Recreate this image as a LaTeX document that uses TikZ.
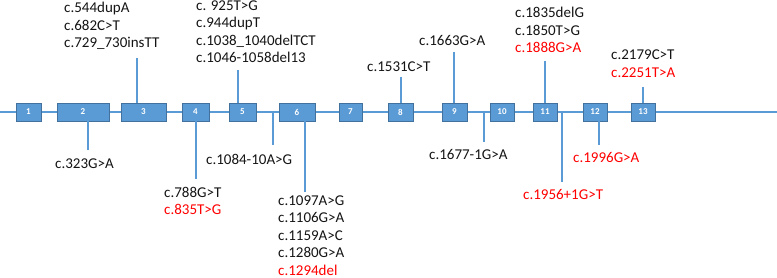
\documentclass[tikz,border=0pt]{standalone}
\usepackage{fontspec}
\setmainfont{Carlito}
\usetikzlibrary{positioning}
\definecolor{LineBlue}{RGB}{91,155,213}
\definecolor{EdgeBlue}{RGB}{65,113,156}
\definecolor{MutRed}{RGB}{255,0,0}
\definecolor{Ink}{RGB}{20,20,20}
\tikzset{
  exon/.style={draw=EdgeBlue,line width=.8pt,fill=LineBlue,text=white,font=\bfseries\fontsize{9}{10}\selectfont,minimum height=18pt,inner sep=0pt},
  gene/.style={draw=LineBlue,line width=2pt},
  stem/.style={draw=LineBlue,line width=1.2pt},
  mut/.style={anchor=north west,inner sep=0pt,align=left,text=Ink,font=\fontsize{15}{17.4}\selectfont,execute at begin node=\strut}
}
\newcommand{\hot}[1]{\textcolor{MutRed}{#1}}
\begin{document}
\begin{tikzpicture}[x=1pt,y=-1pt]
  \useasboundingbox (0,0) rectangle (777,278);
  \coordinate (lineL) at (0,112);
  \coordinate (lineR) at (777,112);
  \draw[gene] (lineL) -- (lineR);
  % exons
  \node[exon,minimum width=25pt] (e1) at (28.5,112) {1};
  \node[exon,minimum width=52pt] (e2) at (83,112) {2};
  \node[exon,minimum width=45pt] (e3) at (143.5,112) {3};
  \node[exon,minimum width=27pt] (e4) at (195.5,112) {4};
  \node[exon,minimum width=27pt] (e5) at (242.5,112) {5};
  \node[exon,minimum width=36pt] (e6) at (297,112) {6};
  \node[exon,minimum width=23pt] (e7) at (350.5,112) {7};
  \node[exon,minimum width=25pt] (e8) at (400.5,112) {8};
  \node[exon,minimum width=25pt] (e9) at (454.5,112) {9};
  \node[exon,minimum width=24pt] (e10) at (502,112) {10};
  \node[exon,minimum width=24pt] (e11) at (545,112) {11};
  \node[exon,minimum width=24pt] (e12) at (595,112) {12};
  \node[exon,minimum width=24pt] (e13) at (643,112) {13};
  % stems above
  \coordinate (t3) at (137,58);
  \coordinate (t5) at (238,70);
  \coordinate (t8) at (401,77);
  \coordinate (t9) at (454,52);
  \coordinate (t11) at (545,61);
  \coordinate (t13) at (643,87);
  \draw[stem] (t3) -- (t3 |- e3.north);
  \draw[stem] (t5) -- (t5 |- e5.north);
  \draw[stem] (t8) -- (t8 |- e8.north);
  \draw[stem] (t9) -- (t9 |- e9.north);
  \draw[stem] (t11) -- (t11 |- e11.north);
  \draw[stem] (t13) -- (t13 |- e13.north);
  % stems below
  \coordinate (b2) at (88,150);
  \coordinate (b4) at (196,179);
  \coordinate (b56) at (273,145);
  \coordinate (b6) at (305,192);
  \coordinate (b910) at (484,142);
  \coordinate (b1112) at (562,182);
  \coordinate (b12) at (599,145);
  \draw[stem] (b2 |- e2.south) -- (b2);
  \draw[stem] (b4 |- e4.south) -- (b4);
  \draw[stem] (b56 |- lineL) -- (b56);
  \draw[stem] (b6 |- e6.south) -- (b6);
  \draw[stem] (b910 |- lineL) -- (b910);
  \draw[stem] (b1112 |- lineL) -- (b1112);
  \draw[stem] (b12 |- e12.south) -- (b12);
  % variants
  \node[mut] (m3) at (64,2) {c.544dupA\\c.682C>T\\c.729\_730insTT};
  \node[mut] (m5) at (196,0.5) {c. 925T>G\\c.944dupT\\c.1038\_1040delTCT\\c.1046-1058del13};
  \node[mut] (m8) at (367,59) {c.1531C>T};
  \node[mut] (m9) at (419,33) {c.1663G>A};
  \node[mut] (m11) at (515,7) {c.1835delG\\c.1850T>G\\\hot{c.1888G>A}};
  \node[mut] (m13) at (611,50) {c.2179C>T\\\hot{c.2251T>A}};
  \node[mut] (m2) at (55,156) {c.323G>A};
  \node[mut] (m4) at (164,187) {c.788G>T\\\hot{c.835T>G}};
  \node[mut] (m56) at (206,152) {c.1084-10A>G};
  \node[mut] (m6) at (278,195.5) {c.1097A>G\\c.1106G>A\\c.1159A>C\\c.1280G>A\\\hot{c.1294del}};
  \node[mut] (m910) at (429,147) {c.1677-1G>A};
  \node[mut] (m1112) at (523,187) {\hot{c.1956+1G>T}};
  \node[mut] (m12) at (573,150) {\hot{c.1996G>A}};
\end{tikzpicture}
\end{document}
